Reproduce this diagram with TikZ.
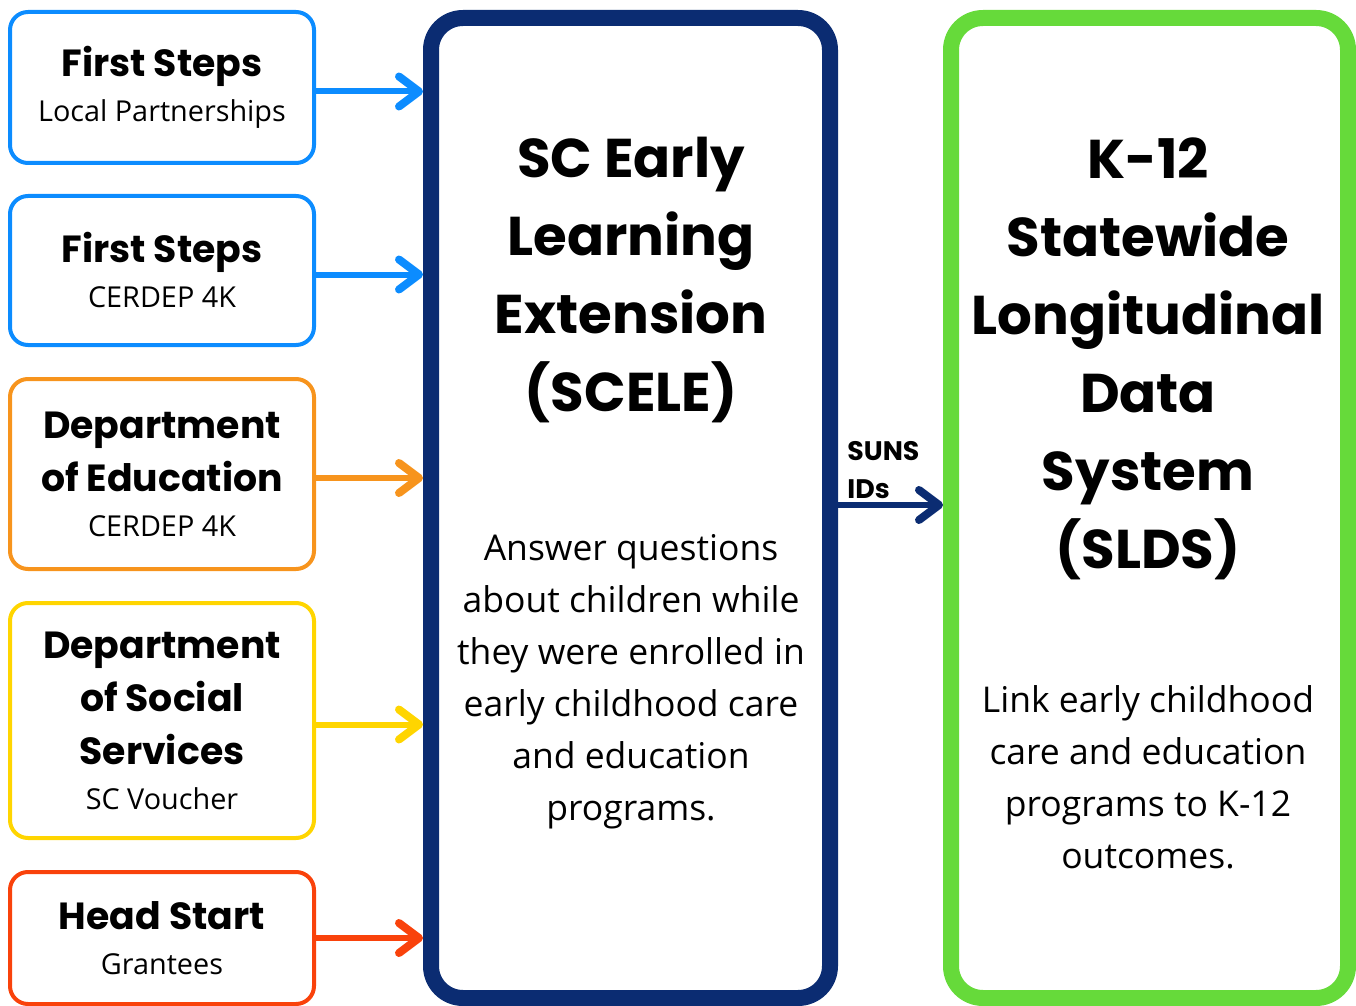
\documentclass[tikz,border=0pt]{standalone}
\usepackage{fontspec}
\usetikzlibrary{arrows.meta}
\newfontfamily\headfont{Poppins}
\newfontfamily\bodyfont{Open Sans}
\newcommand{\subline}[1]{\\[-4pt]{\bodyfont\mdseries\fontsize{14.4}{26}\selectfont #1}}
\definecolor{fsblue}{HTML}{0C8CFF}
\definecolor{doeorange}{HTML}{F7941D}
\definecolor{dssyellow}{HTML}{FFD500}
\definecolor{hsred}{HTML}{F9420B}
\definecolor{scelenavy}{HTML}{0B2C72}
\definecolor{sldsgreen}{HTML}{66DA3A}

\begin{document}
\begin{tikzpicture}[x=0.5pt,y=-0.5pt]

	\tikzstyle{source} = [rectangle,rounded corners=9pt,line width=2pt,inner sep=0pt,minimum width=152pt,align=center,font=\headfont\bfseries\fontsize{18.9}{26.5}\selectfont]
	\tikzstyle{store} = [rectangle,rounded corners=16pt,line width=8pt,inner sep=0pt,minimum width=199.5pt,minimum height=490pt]
	\tikzstyle{heading} = [align=center,font=\headfont\bfseries\fontsize{27.3}{39}\selectfont]
	\tikzstyle{blurb} = [align=center,font=\bodyfont\fontsize{17.75}{26}\selectfont]
	\tikzstyle{flecha} = [line width=3pt,-{Straight Barb[length=10pt,width=15pt,round,line width=4pt]}]

	\useasboundingbox (0,0) rectangle (1356,1006);

	% sources
	\node[source,draw=fsblue,minimum height=75.5pt] (fs1) at (162,87.5) {First Steps\subline{Local Partnerships}};
	\node[source,draw=fsblue,minimum height=74.5pt] (fs2) at (162,270.5) {First Steps\subline{CERDEP 4K}};
	\node[source,draw=doeorange,minimum height=95pt] (doe) at (162,474) {Department\\of Education\subline{CERDEP 4K}};
	\node[source,draw=dssyellow,minimum height=117.5pt] (dss) at (162,720.5) {Department\\of Social\\Services\subline{SC Voucher}};
	\node[source,draw=hsred,minimum height=66pt] (hs) at (162,938) {Head Start\subline{Grantees}};

	% data systems
	\node[store,draw=scelenavy] (scele) at (630.5,508) {};
	\node[store,draw=sldsgreen,minimum width=198.5pt] (slds) at (1149.5,508) {};

	\node[heading] (scelehead) at (631,280.5) {SC Early\\Learning\\Extension\\(SCELE)};
	\node[blurb] (sceleblurb) at (631,682) {Answer questions\\about children while\\they were enrolled in\\early childhood care\\and education\\programs.};
	\node[heading] (sldshead) at (1148,359) {K-12\\Statewide\\Longitudinal\\Data\\System\\(SLDS)};
	\node[blurb] (sldsblurb) at (1148,777) {Link early childhood\\care and education\\programs to K-12\\outcomes.};

	\node[align=left,anchor=west,inner sep=0pt,font=\headfont\bfseries\fontsize{13.4}{19}\selectfont] (suns) at (847,470) {SUNS\\IDs};

	% arrows
	\draw[flecha,fsblue] ([yshift=-2pt]fs1.east) -- ([yshift=-2pt]fs1.east -| scele.west);
	\draw[flecha,fsblue] ([yshift=-2pt]fs2.east) -- ([yshift=-2pt]fs2.east -| scele.west);
	\draw[flecha,doeorange] ([yshift=-2pt]doe.east) -- ([yshift=-2pt]doe.east -| scele.west);
	\draw[flecha,dssyellow] ([yshift=-2pt]dss.east) -- ([yshift=-2pt]dss.east -| scele.west);
	\draw[flecha,hsred] (hs.east) -- (hs.east -| scele.west);
	\draw[flecha,scelenavy] ([yshift=1.5pt]scele.east) -- ([yshift=1.5pt]scele.east -| slds.west);

\end{tikzpicture}
\end{document}
